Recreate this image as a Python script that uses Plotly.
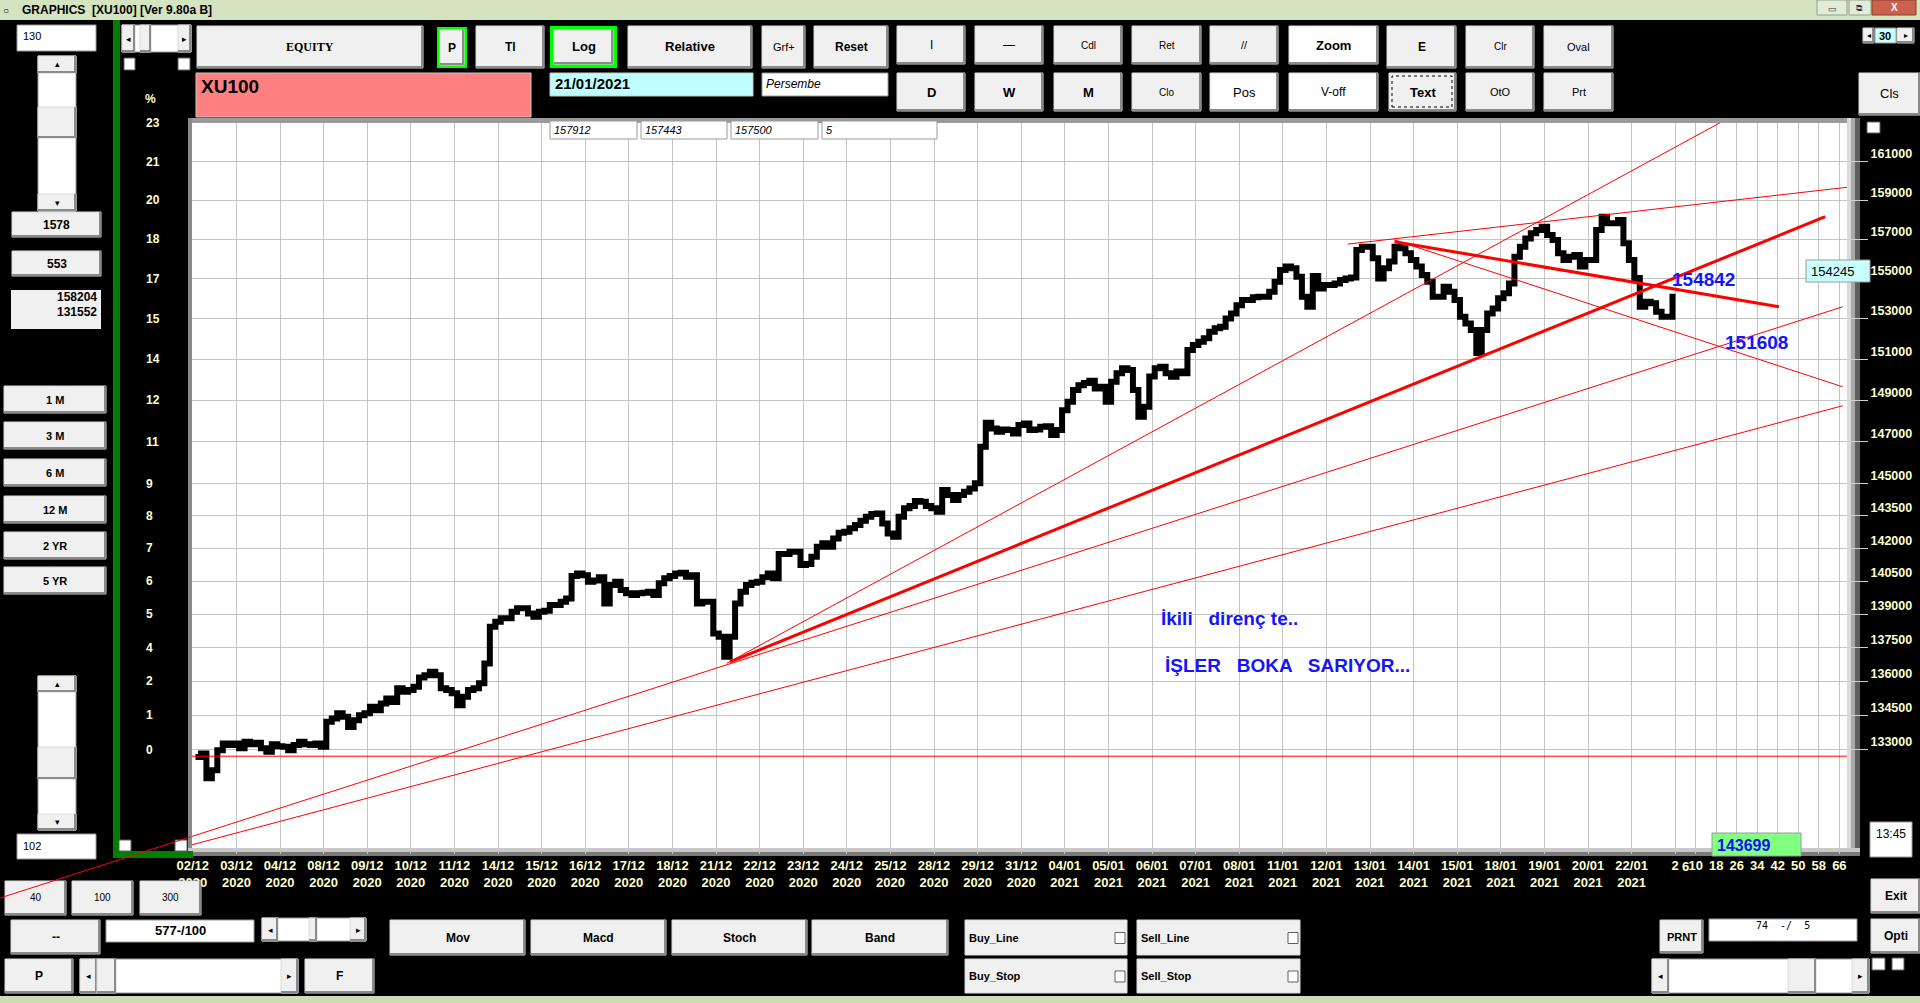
import math
import plotly.graph_objects as go

# ------------------------------------------------------------------ data
day_labels = ["02/12", "03/12", "04/12", "08/12", "09/12", "10/12", "11/12", "14/12", "15/12",
              "16/12", "17/12", "18/12", "21/12", "22/12", "23/12", "24/12", "25/12", "28/12",
              "29/12", "31/12", "04/01", "05/01", "06/01", "07/01", "08/01", "11/01", "12/01",
              "13/01", "14/01", "15/01", "18/01", "19/01", "20/01", "22/01"]
year_labels = ["2020", "2020", "2020", "2020", "2020", "2020", "2020", "2020", "2020", "2020",
               "2020", "2020", "2020", "2020", "2020", "2020", "2020", "2020", "2020", "2020",
               "2021", "2021", "2021", "2021", "2021", "2021", "2021", "2021", "2021", "2021",
               "2021", "2021", "2021", "2021"]

# XU100 30-minute closes, eight readings per trading day
closes_by_day = [
    [132700, 132850, 131780, 132130, 132990, 133280, 133210, 133280],
    [133070, 133350, 133250, 133310, 133070, 132920, 133250, 133160],
    [133140, 132990, 133210, 133350, 133250, 133210, 133280, 133140],
    [134220, 134370, 134590, 134440, 134000, 134290, 134510, 134590],
    [134880, 134730, 135020, 135240, 135090, 135690, 135540, 135610],
    [135760, 136170, 136270, 136420, 136270, 135690, 135610, 135470],
    [134950, 135320, 135610, 135690, 135910, 136790, 138430, 138650],
    [138810, 138810, 139110, 139260, 139260, 139030, 138880, 139110],
    [139150, 139410, 139410, 139560, 139710, 140730, 140850, 140770],
    [140470, 140520, 140670, 139480, 140320, 140470, 140090, 139940],
    [139860, 139940, 139970, 140010, 139860, 140400, 140630, 140730],
    [140850, 140880, 140700, 140770, 139480, 139560, 139560, 138130],
    [137980, 137090, 137980, 139480, 140010, 140320, 140420, 140470],
    [140670, 140850, 140630, 141740, 141740, 141840, 141840, 141230],
    [141280, 141610, 142070, 142230, 142070, 142460, 142720, 142770],
    [142930, 143080, 143280, 143460, 143590, 143620, 143150, 142690],
    [142540, 143460, 143860, 143970, 144200, 144170, 143970, 143860],
    [143700, 144720, 144480, 144250, 144480, 144640, 144790, 145030],
    [146760, 147910, 147640, 147480, 147590, 147560, 147400, 147800],
    [147880, 147560, 147590, 147720, 147750, 147320, 147560, 148520],
    [148920, 149490, 149730, 149840, 149940, 149570, 149650, 148920],
    [149900, 150310, 150550, 150470, 149490, 148200, 148680, 150150],
    [150550, 150630, 150310, 150140, 150390, 150310, 151450, 151700],
    [151860, 152030, 152350, 152520, 152600, 153010, 153260, 153670],
    [153930, 153930, 154060, 154090, 154090, 154340, 154840, 155440],
    [155610, 155520, 155100, 154090, 153590, 155130, 154510, 154680],
    [154680, 154760, 154930, 155010, 155060, 156450, 156620, 156620],
    [156030, 155010, 155520, 155860, 156620, 156540, 156280, 155940],
    [155610, 155180, 154840, 154090, 154090, 154590, 154340, 153930],
    [153090, 152760, 152430, 151300, 152430, 153260, 153510, 154010],
    [154270, 154760, 156110, 156620, 157040, 157300, 157470, 157640],
    [157210, 156960, 156280, 155940, 156110, 156200, 155610, 155940],
    [155940, 157470, 158150, 157810, 157810, 157980, 156790, 155940],
    [155030, 153590, 153840, 153760, 153340, 153090, 153090, 154245],
]

price_ticks = [161000, 159000, 157000, 155000, 153000, 151000, 149000, 147000, 145000,
               143500, 142000, 140500, 139000, 137500, 136000, 134500, 133000]
pct_ticks = [21, 20, 18, 17, 15, 14, 12, 11, 9, 8, 7, 6, 5, 4, 2, 1, 0]
pct_top = 23
future_bar_ticks = [2, 10, 18, 26, 34, 42, 50, 58, 66]
future_bar_extra = 6
BARS_PER_DAY = 17

# user-drawn trend lines: [start, end] in (trading day, price)
support_price = 132730
line_steep_days, line_steep_prices = [12.24, 35.10], [136790, 163140]
line_main_days, line_main_prices = [12.32, 37.44], [136860, 158150]
line_mid_days, line_mid_prices = [-0.05, 37.84], [129300, 153590]
line_low_days, line_low_prices = [-0.05, 37.84], [128950, 148730]
line_top_days, line_top_prices = [26.49, 37.95], [156750, 159670]
line_res_days, line_res_prices = [27.56, 36.38], [156870, 153590]
line_fall_days, line_fall_prices = [27.56, 37.84], [156960, 149650]

y_range_prices = [128831, 163037]
x_range_days = [-0.0183, 37.94]

# ------------------------------------------------------------------ layout helpers
W, H = 1920, 1003
PL, PR, PT, PB = 192, 1847, 123, 848
UI = "Liberation Sans Narrow, Liberation Sans, Arial, sans-serif"
SANS = "Liberation Sans, Arial, sans-serif"
PALE = "#FFFFD0"


def px(x):
    return (x - PL) / (PR - PL)


def py(y):
    return (PB - y) / (PB - PT)


shapes, annos = [], []


def rect(x0, y0, x1, y1, fill, line_color=None, lw=0, layer="above", dash=None):
    shapes.append(dict(type="rect", xref="paper", yref="paper", x0=px(x0), x1=px(x1),
                       y0=py(y1), y1=py(y0), fillcolor=fill, layer=layer,
                       line=dict(color=line_color or fill, width=lw, dash=dash)))


def seg(x0, y0, x1, y1, color, width=1, layer="above"):
    shapes.append(dict(type="line", xref="paper", yref="paper", x0=px(x0), y0=py(y0),
                       x1=px(x1), y1=py(y1), layer=layer, line=dict(color=color, width=width)))


def text(x, y, s, size=12, color="black", bold=False, italic=False, anchor="center", family=UI):
    annos.append(dict(xref="paper", yref="paper", x=px(x), y=py(y), text=s, showarrow=False,
                      xanchor=anchor, yanchor="middle",
                      font=dict(size=size, color=color, family=family,
                                weight="bold" if bold else "normal",
                                style="italic" if italic else "normal")))


def button(x0, y0, x1, y1, label, size=12, bold=True, fill="#F0F0F0", family=UI, color="black"):
    rect(x0, y0, x1, y1, fill, "#DADADA", 1)
    seg(x0, y1 - 1, x1, y1 - 1, "#8A8A8A", 2)
    seg(x1 - 1, y0, x1 - 1, y1, "#8A8A8A", 2)
    if label:
        text((x0 + x1) / 2, (y0 + y1) / 2, label, size, color, bold, family=family)


def box(x0, y0, x1, y1, fill="white", border="#9A9A9A"):
    rect(x0, y0, x1, y1, fill, border, 1)


def checkbox(x0, y0, x1, y1):
    rect(x0, y0, x1, y1, "white", "#606060", 1)


def hscroll(x0, y0, x1, y1, t0, t1, aw):
    box(x0, y0, x1, y1)
    button(x0, y0, x0 + aw, y1, "◂", 9, False)
    button(x1 - aw, y0, x1, y1, "▸", 9, False)
    button(t0, y0, t1, y1, "")


def vscroll(x0, y0, x1, y1, t0, t1, ah):
    box(x0, y0, x1, y1)
    button(x0, y0, x1, y0 + ah, "▴", 9, False)
    button(x0, y1 - ah, x1, y1, "▾", 9, False)
    button(x0, t0, x1, t1, "")


# ------------------------------------------------------------------ chrome
rect(0, 0, W, 20, "#D4E3C0")
text(6, 10, "○", 10, "black", family=SANS)
text(20, 10, "GRAPHICS  [XU100] [Ver 9.80a B]", 12, "black", True, anchor="left", family=UI)
rect(1817, 0, 1847, 15, "#E3EBD9", "#8FA08A", 1)
text(1832, 9, "▭", 9, "#333")
rect(1849, 0, 1871, 15, "#E3EBD9", "#8FA08A", 1)
text(1860, 8, "⧉", 9, "#333")
rect(1872, 0, 1916, 15, "#C9624E", "#8F3A2C", 1)
text(1894, 8, "<b>X</b>", 10, "white")
rect(0, 996, W, H, "#CCDDB5")

# frame around the plot
rect(PL - 4, PT - 5, PR + 13, PT, "#9A9A9A", layer="below")
rect(PL - 4, PT - 5, PL, PB + 8, "#8A8A8A", layer="below")
rect(PR, PT - 5, PR + 4, PB + 8, "#DADADA", layer="below")
rect(PR + 4, PT - 5, PR + 8, PB + 8, "#A8A8A8", layer="below")
rect(PR + 8, PT - 5, PR + 13, PB + 8, "#5E5E5E", layer="below")
rect(PL - 4, PB, PR + 13, PB + 4, "#C8C8C8", layer="below")
rect(PL - 4, PB + 4, PR + 13, PB + 8, "#7A7A7A", layer="below")

# green frame on the left
rect(113, 20, 120, 858, "#008000")
rect(113, 851, 193, 858, "#008000")
checkbox(119, 840, 131, 851)
checkbox(175, 840, 187, 851)

# left panel
box(17, 25, 96, 51)
text(21, 36, "130", 11, "black", anchor="left", family=SANS)
vscroll(38, 56, 76, 211, 107, 138, 17)
button(12, 212, 101, 237, "1578", 12, True, family=SANS)
button(12, 251, 101, 276, "553", 12, True, family=SANS)
rect(11, 290, 101, 329, "#F0F0F0")
text(99, 297, "158204", 12, "black", True, anchor="right", family=SANS)
text(99, 312, "131552", 12, "black", True, anchor="right", family=SANS)
for (yy, lab) in [(386, "1 M"), (422, "3 M"), (459, "6 M"), (496, "12 M"), (532, "2 YR"), (567, "5 YR")]:
    button(4, yy, 106, yy + 27, lab, 11, True, family=SANS)
vscroll(38, 676, 76, 830, 747, 779, 16)
box(17, 834, 96, 859)
text(21, 846, "102", 11, "black", anchor="left", family=SANS)

# top-left scroll and checkboxes
hscroll(122, 25, 191, 52, 140, 151, 13)
checkbox(124, 58, 135, 70)
checkbox(178, 58, 190, 70)
text(150, 99, "%", 12, PALE, True, family=SANS)

# toolbar row 1
button(197, 26, 423, 68, "EQUITY", 12, True, family="Liberation Serif, serif")
rect(437, 27, 467, 68, "#00FF00")
button(440, 30, 464, 65, "P", 12, True)
button(476, 26, 544, 68, "Tl", 12, True)
rect(550, 26, 617, 68, "#00FF00")
button(554, 30, 613, 64, "Log", 13, True)
button(628, 26, 752, 68, "Relative", 13, True)
button(762, 26, 805, 68, "Grf+", 11, False)
button(814, 26, 888, 68, "Reset", 12, True)
button(897, 26, 965, 64, "I", 12, False)
button(975, 26, 1043, 64, "—", 12, False)
button(1054, 26, 1122, 64, "Cdl", 10, False)
button(1132, 26, 1201, 64, "Ret", 10, False)
button(1210, 26, 1278, 64, "//", 11, False)
button(1289, 26, 1378, 64, "Zoom", 13, True, fill="white")
button(1387, 26, 1456, 68, "E", 12, True)
button(1466, 26, 1534, 68, "Clr", 10, False)
button(1544, 26, 1613, 68, "Oval", 11, False)
# toolbar row 2
button(897, 73, 965, 111, "D", 13, True)
button(975, 73, 1043, 111, "W", 13, True)
button(1054, 73, 1122, 111, "M", 13, True)
button(1132, 73, 1201, 111, "Clo", 10, False)
button(1210, 73, 1278, 111, "Pos", 13, False, fill="white")
button(1289, 73, 1378, 111, "V-off", 12, False, fill="white")
button(1389, 73, 1456, 111, "Text", 13, True)
rect(1392, 76, 1452, 107, "rgba(0,0,0,0)", "#000000", 1, dash="dot")
button(1466, 73, 1534, 111, "OtO", 11, False)
button(1544, 73, 1613, 111, "Prt", 11, False)
button(1859, 73, 1920, 115, "Cls", 13, False)

# spinner "30"
button(1863, 28, 1874, 43, "◂", 8, False)
rect(1875, 28, 1896, 43, "#C8FFFF", "#9A9A9A", 1)
text(1885, 36, "30", 11, "black", True, family=SANS)
button(1897, 28, 1914, 43, "▸", 8, False)

# symbol / date boxes
rect(196, 73, 531, 117, "#FF8080", "#C8C8C8", 1)
text(199, 86, "XU100", 19, "black", True, anchor="left", family=SANS)
rect(550, 73, 753, 96, "#C0FFFF", "#C8C8C8", 1)
text(553, 84, "21/01/2021", 15, "black", True, anchor="left", family=SANS)
box(762, 73, 888, 96)
text(764, 84, "Persembe", 12, "black", italic=True, anchor="left", family=SANS)
for (x0, x1, s) in [(550, 637, "157912"), (641, 727, "157443"), (731, 818, "157500"), (822, 937, "5")]:
    box(x0, 121, x1, 139)
    text(x0 + 2, 130, s, 11, "black", italic=True, anchor="left", family=SANS)

# right side boxes
checkbox(1867, 122, 1880, 133)
rect(1806, 260, 1870, 282, "#C8FFFF", "#9A9A9A", 1)
text(1809, 271, "154245", 13, "black", anchor="left", family=SANS)
rect(1712, 833, 1801, 856, "#80FF80", "#9A9A9A", 1)
text(1715, 845, "143699", 16, "#1010F0", True, anchor="left", family=SANS)
box(1870, 822, 1912, 857)
text(1874, 834, "13:45", 12, "black", anchor="left", family=SANS)

# bottom controls
button(5, 881, 66, 915, "40", 10, False)
button(72, 881, 133, 915, "100", 10, False)
button(140, 881, 201, 915, "300", 10, False)
button(11, 920, 100, 954, "--", 12, True)
box(106, 920, 254, 942)
text(180, 931, "577-/100", 13, "black", True, family=SANS)
hscroll(262, 918, 366, 941, 309, 317, 16)
button(390, 920, 525, 955, "Mov", 12, True)
button(531, 920, 666, 955, "Macd", 12, True)
button(672, 920, 807, 955, "Stoch", 12, True)
button(812, 920, 948, 955, "Band", 12, True)
button(5, 959, 73, 993, "P", 12, True)
hscroll(80, 959, 298, 993, 97, 116, 17)
button(305, 959, 374, 993, "F", 12, True)
for (x0, x1, y0, y1, lab) in [(965, 1127, 920, 955, "Buy_Line"), (1137, 1300, 920, 955, "Sell_Line"),
                              (965, 1127, 959, 993, "Buy_Stop"), (1137, 1300, 959, 993, "Sell_Stop")]:
    rect(x0, y0, x1, y1, "#F0F0F0", "#DADADA", 1)
    text(x0 + 2, (y0 + y1) / 2, lab, 11, "black", True, anchor="left")
    checkbox(x1 - 12, (y0 + y1) / 2 - 5, x1 - 2, (y0 + y1) / 2 + 6)
button(1871, 879, 1920, 913, "Exit", 12, True)
button(1660, 920, 1703, 953, "PRNT", 11, True)
box(1709, 919, 1857, 941)
text(1783, 926, "74  -/  5", 10, "black", family="DejaVu Sans Mono, monospace")
button(1871, 919, 1920, 953, "Opti", 12, True)
hscroll(1652, 959, 1869, 993, 1788, 1816, 17)
checkbox(1872, 958, 1885, 970)
checkbox(1892, 958, 1904, 970)

# red trend line continuing outside the chart (bottom-left)
seg(190.7, 836.8, 0, 898, "#FF0000", 1)

# ------------------------------------------------------------------ chart
fig = go.Figure()

xs, ys = [], []
for d, vals in enumerate(closes_by_day):
    for k, v in enumerate(vals):
        xs.append(d + (k + 0.5) / len(vals))
        ys.append(v)

fig.add_trace(go.Scatter(x=xs, y=ys, mode="lines", line=dict(color="black", width=6, shape="hv"),
                         hoverinfo="skip", showlegend=False))

fig.add_trace(go.Scatter(x=x_range_days, y=[support_price, support_price], mode="lines",
                         line=dict(color="#FF0000", width=1), hoverinfo="skip", showlegend=False))
for dx, dy, w in [(line_steep_days, line_steep_prices, 1), (line_main_days, line_main_prices, 3),
                  (line_mid_days, line_mid_prices, 1), (line_low_days, line_low_prices, 1),
                  (line_top_days, line_top_prices, 1), (line_res_days, line_res_prices, 3),
                  (line_fall_days, line_fall_prices, 1)]:
    fig.add_trace(go.Scatter(x=dx, y=dy, mode="lines", line=dict(color="#FF0000", width=w),
                             hoverinfo="skip", showlegend=False))

# chart texts
text(1670, 279, "154842", 19, "#1414FF", True, anchor="left", family=SANS)
text(1723, 342, "151608", 19, "#1414FF", True, anchor="left", family=SANS)
text(1159, 618, "İkili   direnç te..", 19, "#1414FF", True, anchor="left", family=SANS)
text(1163, 665, "İŞLER   BOKA   SARIYOR...", 19, "#1414FF", True, anchor="left", family=SANS)

# percentage scale on the left
for p, lab in zip(price_ticks, pct_ticks):
    annos.append(dict(xref="paper", yref="y", x=px(144), y=math.log10(p), text=str(lab),
                      showarrow=False, xanchor="left", yanchor="middle",
                      font=dict(size=12, color=PALE, family=SANS, weight="bold")))
annos.append(dict(xref="paper", yref="y", x=px(144), y=math.log10(y_range_prices[1]), text=str(pct_top),
                  showarrow=False, xanchor="left", yanchor="middle",
                  font=dict(size=12, color=PALE, family=SANS, weight="bold")))

# extra future bar label
annos.append(dict(xref="x", yref="paper", x=len(closes_by_day) + (future_bar_extra - 2) / BARS_PER_DAY,
                  y=py(866), text=str(future_bar_extra), showarrow=False, xanchor="center",
                  yanchor="middle", font=dict(size=13, color=PALE, family=SANS, weight="bold")))

tickvals = list(range(len(day_labels))) + [len(closes_by_day) + (n - 2) / BARS_PER_DAY for n in future_bar_ticks]
ticktext = [f"{d}<br>{y}" for d, y in zip(day_labels, year_labels)] + [str(n) for n in future_bar_ticks]

fig.update_layout(
    width=W, height=H,
    margin=dict(l=PL, r=W - PR, t=PT, b=H - PB, pad=0, autoexpand=False),
    paper_bgcolor="black", plot_bgcolor="white",
    showlegend=False,
    shapes=shapes, annotations=annos,
    xaxis=dict(range=x_range_days, tickmode="array", tickvals=tickvals, ticktext=ticktext,
               showgrid=True, gridcolor="#C4C4C4", gridwidth=1, zeroline=False, showline=False,
               ticks="outside", ticklen=5, tickcolor="#C4C4C4", tickangle=0,
               tickfont=dict(size=13, color=PALE, family=SANS, weight="bold")),
    yaxis=dict(type="log", side="right",
               range=[math.log10(y_range_prices[0]), math.log10(y_range_prices[1])],
               tickmode="array", tickvals=price_ticks, ticktext=[str(v) for v in price_ticks],
               showgrid=True, gridcolor="#C4C4C4", gridwidth=1, zeroline=False, showline=False,
               ticks="outside", ticklen=20, tickcolor="#D0D0D0", ticklabelshift=-8,
               tickfont=dict(size=12.5, color=PALE, family=SANS, weight="bold")),
)

fig.write_html("out.html", config={"displayModeBar": False},
               post_script="document.body.style.margin='0';document.body.style.overflow='hidden';")
